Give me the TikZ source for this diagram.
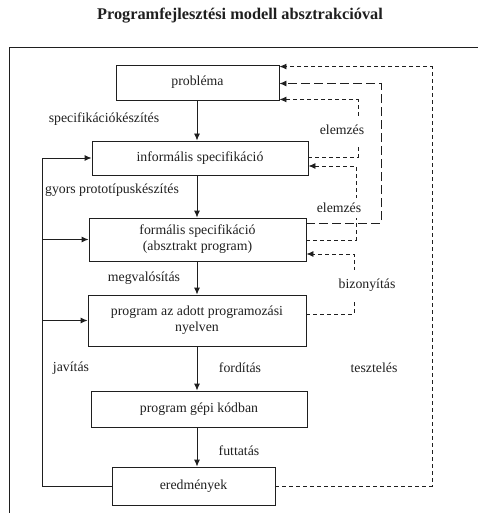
\documentclass[tikz,border=0pt]{standalone}
\usepackage{fontspec}
\setmainfont{Liberation Serif}
\usetikzlibrary{arrows.meta}
\begin{document}
\begin{tikzpicture}[x=1pt,y=-1pt,
  every node/.style={font=\fontsize{13.8}{16}\selectfont, text=black!88},
  box/.style={draw=black!88, line width=0.9pt, inner sep=0pt, align=center},
  lab/.style={inner sep=1pt},
  gaplab/.style={fill=white, inner xsep=1pt},
  arr/.style={-{Latex[length=7pt,width=6pt]}, line width=0.9pt, draw=black!88},
  dS/.style={dash pattern=on 4pt off 3pt},
  dL/.style={dash pattern=on 9pt off 4pt}]
\useasboundingbox (0,0) rectangle (477,513);
% frame (cropped by the page)
\draw[line width=0.9pt, black!88] (9,530) -- (9,47) -- (490,47);
% title
\node[font=\bfseries\fontsize{16.3}{19}\selectfont] (title) at (240,16) {Programfejlesztési modell absztrakcióval};
% boxes
\node[box, minimum width=163pt, minimum height=35pt] (b1) at (197.5,82.5) {probléma};
\node[box, minimum width=216pt, minimum height=34pt] (b2) at (200,158) {informális specifikáció};
\node[box, minimum width=217pt, minimum height=43pt] (b3) at (197.5,239.5) {formális specifikáció\\(absztrakt program)};
\node[box, minimum width=218pt, minimum height=51pt] (b4) at (197,320.5) {program az adott programozási\\nyelven};
\node[box, minimum width=216pt, minimum height=36pt] (b5) at (199,409) {program gépi kódban};
\node[box, minimum width=163pt, minimum height=38pt] (b6) at (193.5,486) {eredmények};
% helper coordinates
\coordinate (ax) at (197,0);
\coordinate (L) at (42,0);
\coordinate (X1) at (432,0);
\coordinate (X2) at (381,0);
\coordinate (X3) at (358,0);
\coordinate (X4) at (356,0);
\coordinate (X5) at (354,0);
\path (b1.north east) ++(0,2) coordinate (i1a);
\path (b1.east) ++(0,1) coordinate (i1b);
\path (b1.south east) ++(0,-1) coordinate (i1c);
\path (b2.east) ++(0,-1) coordinate (o2);
\path (b2.east) ++(0,8) coordinate (i2);
\path (b3.north east) ++(0,6) coordinate (o3a);
\path (b3.east) ++(0,0.5) coordinate (o3b);
\path (b3.east) ++(0,14.5) coordinate (i3);
\path (b4.east) ++(0,-6.5) coordinate (o4);
% main flow
\foreach \a/\b in {b1/b2,b2/b3,b3/b4,b4/b5,b5/b6}
  \draw[arr] (\a.south -| ax) -- (\b.north -| ax);
% correction loop (left)
\draw[arr] (b6.west) -| (L |- b2.west) -- (b2.west);
\draw[arr] (L |- b3.west) -- (b3.west);
\draw[arr] (L |- b4.west) -- (b4.west);
% dashed feedback loops (right)
\draw[arr, dS] (b6.east) -| (X1 |- i1a) -- (i1a);
\draw[arr, dL] (o3a) -| (X2 |- i1b) -- (i1b);
\draw[arr, dS] (o2) -| (X3 |- i1c) -- (i1c);
\draw[arr, dS] (o3b) -| (X4 |- i2) -- (i2);
\draw[arr, dS] (o4) -| (X5 |- i3) -- (i3);
% labels
\node[lab] (l1) at (104,119) {specifikációkészítés};
\node[gaplab, inner ysep=9pt] (l2) at (342,130) {elemzés};
\node[lab] (l3) at (112,190) {gyors prototípuskészítés};
\node[gaplab, inner ysep=5pt] (l4) at (339,208) {elemzés};
\node[lab] (l5) at (144,278) {megvalósítás};
\node[gaplab, inner ysep=9pt] (l6) at (367,285) {bizonyítás};
\node[lab] (l7) at (71,368) {javítás};
\node[lab] (l8) at (240,368) {fordítás};
\node[lab] (l9) at (374,368) {tesztelés};
\node[lab] (l10) at (239,451) {futtatás};
\end{tikzpicture}
\end{document}
